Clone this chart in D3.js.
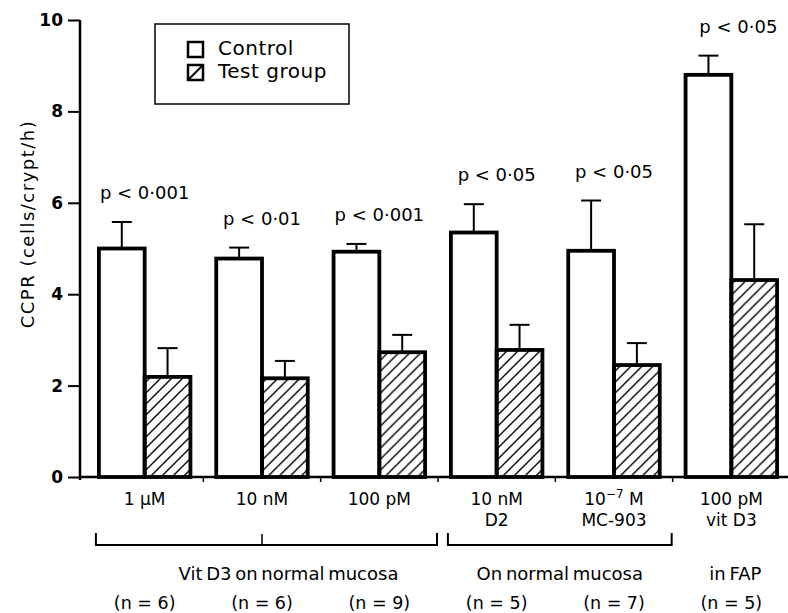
<!DOCTYPE html>
<html>
<head>
<meta charset="utf-8">
<script src="https://cdn.jsdelivr.net/npm/d3@7"></script>
<style>
  body { margin: 0; background: #fff; }
  svg { display: block; font-family: "DejaVu Sans", "Liberation Sans", sans-serif; }
</style>
</head>
<body>
<svg id="chart" width="788" height="613"></svg>
<script>
// values
const groups = ["g1", "g2", "g3", "g4", "g5", "g6"];
const doseLine1 = ["1 μM", "10 nM", "100 pM", "10 nM", "10^-7 M", "100 pM"];
const doseLine2 = ["", "", "", "D2", "MC-903", "vit D3"];
const controlMean = [5.0, 4.78, 4.93, 5.35, 4.95, 8.80];
const controlSE = [0.58, 0.24, 0.17, 0.62, 1.10, 0.42];
const testMean = [2.19, 2.16, 2.73, 2.78, 2.45, 4.31];
const testSE = [0.63, 0.38, 0.38, 0.55, 0.48, 1.22];
const pLabels = ["p < 0·001", "p < 0·01", "p < 0·001", "p < 0·05", "p < 0·05", "p < 0·05"];
const nLabels = ["(n = 6)", "(n = 6)", "(n = 9)", "(n = 5)", "(n = 7)", "(n = 5)"];
const spanLabels = ["Vit D3 on normal mucosa", "On normal mucosa", "in FAP"];
const spanFirst = [0, 3, 5];
const spanLast = [2, 4, 5];
const yTicks = [0, 2, 4, 6, 8, 10];
const seriesNames = ["Control", "Test group"];

const svg = d3.select("#chart");

let y = d3.scaleLinear().domain([0, 10]).range([477, 20]);
let x = d3.scaleBand().domain(groups).range([86, 790])
    .paddingInner(0.22).paddingOuter(0.11);
let xs = d3.scaleBand().domain(["c", "t"]).range([0, x.bandwidth()]);

// hatch for the test group
const defs = svg.append("defs");
defs.append("pattern")
    .attr("id", "hatch")
    .attr("patternUnits", "userSpaceOnUse")
    .attr("width", 11).attr("height", 11)
  .append("path")
    .attr("d", "M-2,2 L2,-2 M0,11 L11,0 M9,13 L13,9")
    .attr("stroke", "#000").attr("stroke-width", 1.4);

// y axis
const yAxis = svg.append("g")
    .attr("transform", "translate(80,0)")
    .call(d3.axisLeft(y).tickValues(yTicks).tickSize(12).tickPadding(5).tickSizeOuter(0));
yAxis.select(".domain").attr("d", "M0," + y(10) + "V" + (y(0) + 3)).attr("stroke-width", 2.5);
yAxis.selectAll(".tick line").attr("stroke-width", 2);
yAxis.selectAll(".tick text")
    .style("font-size", "17px").style("font-weight", "bold")
    .style("font-family", "'DejaVu Sans', sans-serif");

svg.append("text")
    .attr("transform", "translate(34," + 224 + ") rotate(-90)")
    .attr("text-anchor", "middle")
    .style("font-size", "18px")
    .style("letter-spacing", "1.5px")
    .text("CCPR (cells/crypt/h)");

// x axis line and separators between groups
svg.append("line")
    .attr("x1", 80).attr("x2", 788)
    .attr("y1", y(0)).attr("y2", y(0))
    .attr("stroke", "#000").attr("stroke-width", 2.5);
svg.selectAll(".sep").data(groups.slice(1)).enter().append("line")
    .attr("x1", d => x(d) - x.step() * x.paddingInner() / 2)
    .attr("x2", d => x(d) - x.step() * x.paddingInner() / 2)
    .attr("y1", y(0)).attr("y2", y(0) + 5)
    .attr("stroke", "#000").attr("stroke-width", 1.5);

const rows = groups.map((g, i) => ({
  g: g, c: controlMean[i], cse: controlSE[i], t: testMean[i], tse: testSE[i],
  p: pLabels[i], d1: doseLine1[i], d2: doseLine2[i], n: nLabels[i]
}));

const grp = svg.selectAll(".grp").data(rows).enter().append("g")
    .attr("transform", d => "translate(" + x(d.g) + ",0)");

// error bars first, bars drawn over them
function errBar(sel, key, seKey, sub) {
  const cx = xs(sub) + xs.bandwidth() / 2;
  sel.append("line")
      .attr("x1", cx).attr("x2", cx)
      .attr("y1", d => y(d[key])).attr("y2", d => y(d[key] + d[seKey]))
      .attr("stroke", "#000").attr("stroke-width", 2);
  sel.append("line")
      .attr("x1", cx - 10).attr("x2", cx + 10)
      .attr("y1", d => y(d[key] + d[seKey])).attr("y2", d => y(d[key] + d[seKey]))
      .attr("stroke", "#000").attr("stroke-width", 2);
}
errBar(grp, "c", "cse", "c");
errBar(grp, "t", "tse", "t");

grp.append("rect")
    .attr("x", xs("c")).attr("width", xs.bandwidth())
    .attr("y", d => y(d.c)).attr("height", d => y(0) - y(d.c))
    .attr("fill", "#fff").attr("stroke", "#000").attr("stroke-width", 3.8);
grp.append("rect")
    .attr("x", xs("t")).attr("width", xs.bandwidth())
    .attr("y", d => y(d.t)).attr("height", d => y(0) - y(d.t))
    .attr("fill", "url(#hatch)").attr("stroke", "#000").attr("stroke-width", 3.8);

// p values above each pair
grp.append("text")
    .attr("x", (d, i) => x.bandwidth() / 2 + (i === 5 ? 7 : 0))
    .attr("y", d => y(d.c + d.cse) - 23)
    .attr("text-anchor", "middle")
    .style("font-size", "18px")
    .text(d => d.p);

// dose labels under axis
const dose = grp.append("text")
    .attr("x", x.bandwidth() / 2).attr("y", 505)
    .attr("text-anchor", "middle")
    .style("font-size", "17px");
dose.each(function(d) {
  const t = d3.select(this);
  if (d.d1.indexOf("^") > -1) {
    const parts = d.d1.split("^");
    const exp = parts[1].split(" ");
    t.append("tspan").text(parts[0]);
    t.append("tspan").attr("dy", -7).style("font-size", "12px").text(exp[0].replace("-", "−"));
    t.append("tspan").attr("dy", 7).text(" " + exp[1]);
  } else {
    t.text(d.d1);
  }
});
grp.append("text")
    .attr("x", x.bandwidth() / 2).attr("y", 526)
    .attr("text-anchor", "middle")
    .style("font-size", "17px")
    .text(d => d.d2);

grp.append("text")
    .attr("x", x.bandwidth() / 2).attr("y", 609)
    .attr("text-anchor", "middle")
    .style("font-size", "17.5px")
    .text(d => d.n);

// brackets and their captions
spanLabels.forEach((lab, i) => {
  const a = groups[spanFirst[i]], b = groups[spanLast[i]];
  const left = x(a) - 3;
  const right = x(b) + x.bandwidth() + x.step() * x.paddingInner() / 2 - 1;
  let cx = (left + right) / 2;
  if (spanFirst[i] !== spanLast[i]) {
    svg.append("path")
        .attr("d", "M" + left + ",533 V545 H" + right + " V533")
        .attr("fill", "none").attr("stroke", "#000").attr("stroke-width", 2);
    if (i === 0) {
      const mx = x(groups[1]) + x.bandwidth() / 2;
      svg.append("line").attr("x1", mx).attr("x2", mx).attr("y1", 534).attr("y2", 545)
          .attr("stroke", "#000").attr("stroke-width", 1.5);
      cx += 22;
    }
  } else {
    cx = x(a) + x.bandwidth() / 2 + 4;
  }
  svg.append("text")
      .attr("x", cx).attr("y", 580)
      .attr("text-anchor", "middle")
      .style("font-size", "18px")
      .style("word-spacing", "-2px")
      .text(lab);
});

// legend
const leg = svg.append("g");
leg.append("rect")
    .attr("x", 155).attr("y", 24).attr("width", 194).attr("height", 80)
    .attr("fill", "#fff").attr("stroke", "#000").attr("stroke-width", 1.5);
seriesNames.forEach((s, i) => {
  const yy = 42 + i * 23;
  leg.append("rect")
      .attr("x", 188).attr("y", yy).attr("width", 15).attr("height", 15)
      .attr("fill", "#fff").attr("stroke", "#000").attr("stroke-width", 2.5);
  if (i === 1) {
    leg.append("line")
        .attr("x1", 188).attr("y1", yy + 15).attr("x2", 203).attr("y2", yy)
        .attr("stroke", "#000").attr("stroke-width", 2);
  }
  leg.append("text")
      .attr("x", 218).attr("y", yy + 13)
      .style("font-size", "20px")
      .style("letter-spacing", "0.5px")
      .text(s);
});
</script>
</body>
</html>
